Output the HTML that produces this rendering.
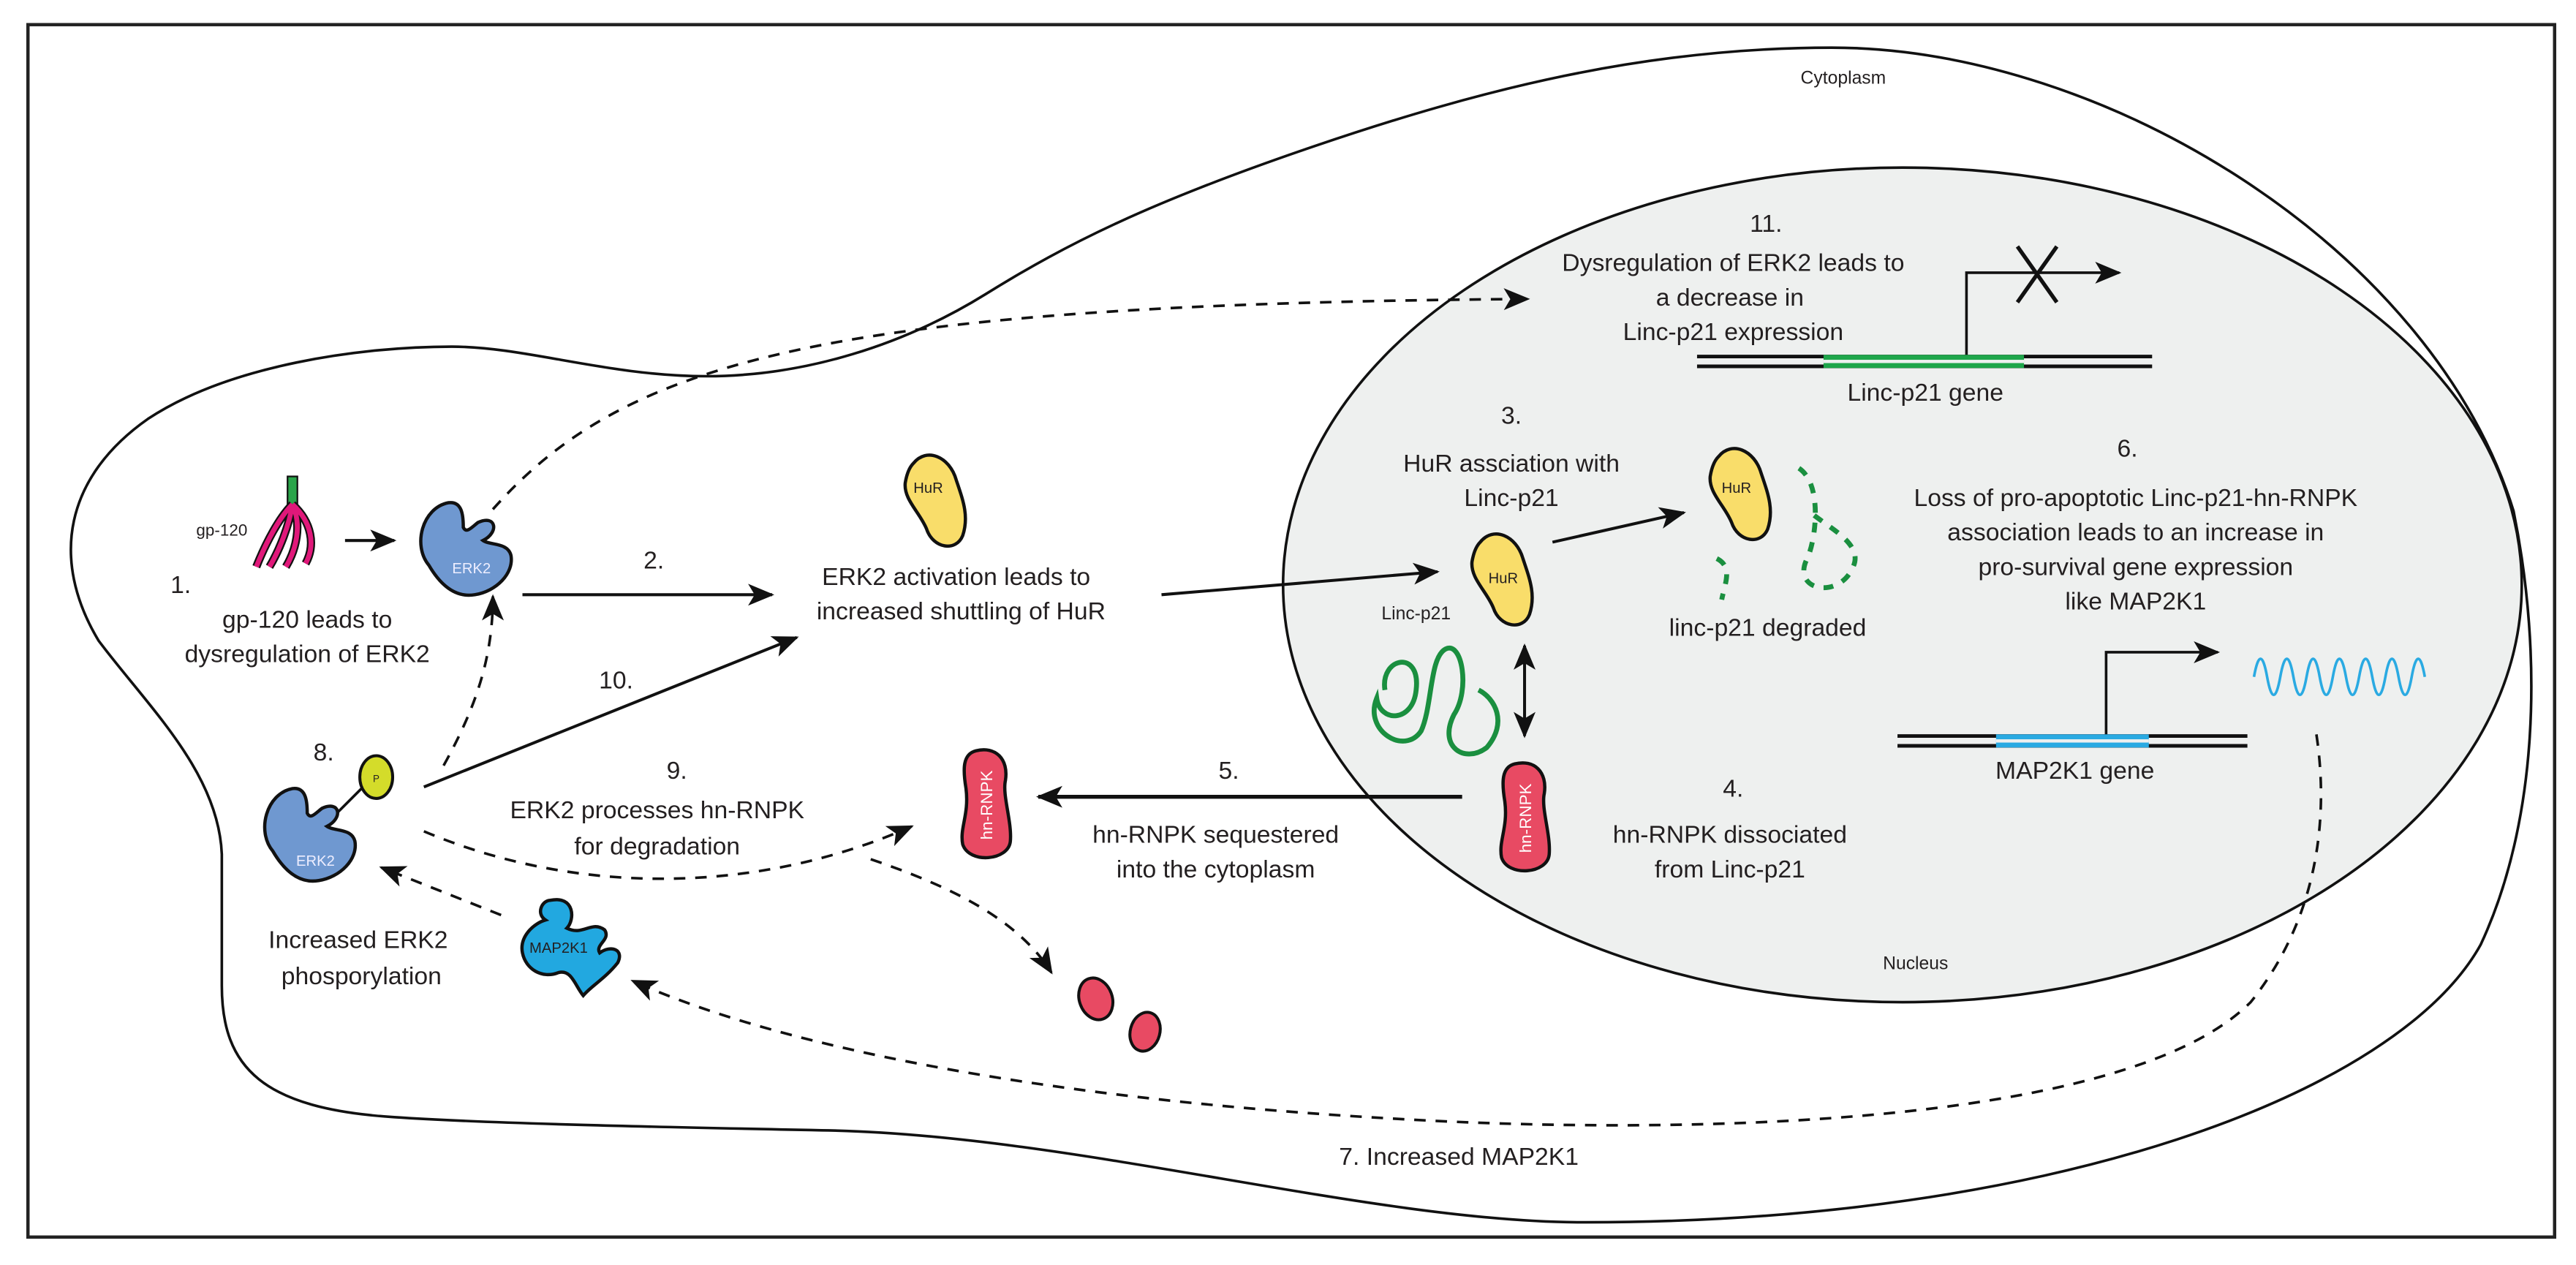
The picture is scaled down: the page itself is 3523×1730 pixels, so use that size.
<!DOCTYPE html>
<html><head><meta charset="utf-8"><style>
html,body{margin:0;padding:0;background:#fff;}
svg{display:block;}
text{font-family:"Liberation Sans",sans-serif;fill:#231f20;}
</style></head><body>
<svg width="3523" height="1730" viewBox="0 0 1568 770" xmlns="http://www.w3.org/2000/svg">
<defs>
<marker id="ahb" viewBox="0 0 12 10" refX="11" refY="5" markerWidth="16" markerHeight="14" orient="auto-start-reverse" markerUnits="userSpaceOnUse">
<path d="M0,0 L12,5 L0,10 L3,5Z" fill="#111"/></marker>
<g id="erk">
<path d="M-10,-28 C-26,-25 -32,-2 -22,10 C-15,22 -6,30 6,28 C19,26 30,15 28,4 C26,-4 15,-2 11,-5 C21,-10 19,-21 8,-16 C4,-13 1,-9 -1,-13 C-1,-21 -2,-29 -10,-28Z" fill="#6f98d0" stroke="#111" stroke-width="2"/>
</g>
<g id="hur">
<path d="M-14,-22 C-6,-32 8,-26 12,-12 C16,0 20,10 16,22 C12,32 -2,30 -6,18 C-10,8 -20,0 -19,-10 C-18,-16 -16,-20 -14,-22Z" fill="#f9dd6a" stroke="#111" stroke-width="2"/>
</g>
<g id="hn">
<path d="M-6,-33 C6,-36 14,-28 12,-15 C10,-6 16,10 15,22 C14,34 -10,36 -14,24 C-16,14 -10,6 -12,-10 C-14,-22 -14,-31 -6,-33Z" fill="#e84a63" stroke="#111" stroke-width="2"/>
</g>
</defs>
<rect x="0" y="0" width="1568" height="770" fill="#fff"/>
<rect x="17" y="15" width="1538" height="738" fill="none" stroke="#222" stroke-width="2"/>

<path d="M275,211 C320,211 370,229 430,229 C490,229 550,210 600,179 C650,148 700,123 800,89 C900,55 1000,29 1115,29 C1280,29 1480,150 1530,311 C1548,400 1545,500 1510,575 C1460,665 1250,745 960,744 C830,743 650,690 500,688 C400,686 300,684 240,680 C160,675 135,650 135,600 L135,520 C133,470 90,430 60,390 C30,340 40,290 90,255 C140,222 220,211 275,211Z" fill="#fff" stroke="#111" stroke-width="1.6"/>
<ellipse cx="1158" cy="356" rx="377" ry="254" fill="#eef0ef" stroke="#111" stroke-width="1.6"/>

<text x="1122" y="51" font-size="11" text-anchor="middle">Cytoplasm</text>
<text x="1166" y="590" font-size="11" text-anchor="middle">Nucleus</text>

<g font-size="15" text-anchor="middle">
<text x="1075" y="141">11.</text>
<text x="1055" y="165">Dysregulation of ERK2 leads to</text>
<text x="1053" y="186">a decrease in</text>
<text x="1055" y="207">Linc-p21 expression</text>
<text x="1172" y="244">Linc-p21 gene</text>
<text x="920" y="258">3.</text>
<text x="920" y="287">HuR assciation with</text>
<text x="920" y="308">Linc-p21</text>
<text x="1076" y="387">linc-p21 degraded</text>
<text x="1295" y="278">6.</text>
<text x="1300" y="308">Loss of pro-apoptotic Linc-p21-hn-RNPK</text>
<text x="1300" y="329">association leads to an increase in</text>
<text x="1300" y="350">pro-survival gene expression</text>
<text x="1300" y="371">like MAP2K1</text>
<text x="1263" y="474">MAP2K1 gene</text>
<text x="1055" y="485">4.</text>
<text x="1053" y="513">hn-RNPK dissociated</text>
<text x="1053" y="534">from Linc-p21</text>
<text x="748" y="474">5.</text>
<text x="740" y="513">hn-RNPK sequestered</text>
<text x="740" y="534">into the cytoplasm</text>
<text x="412" y="474">9.</text>
<text x="400" y="498">ERK2 processes hn-RNPK</text>
<text x="400" y="520">for degradation</text>
<text x="197" y="463">8.</text>
<text x="218" y="577">Increased ERK2</text>
<text x="220" y="599">phosporylation</text>
<text x="375" y="419">10.</text>
<text x="110" y="361">1.</text>
<text x="187" y="382">gp-120 leads to</text>
<text x="187" y="403">dysregulation of ERK2</text>
<text x="398" y="346">2.</text>
<text x="582" y="356">ERK2 activation leads to</text>
<text x="585" y="377">increased shuttling of HuR</text>
<text x="888" y="709">7.  Increased MAP2K1</text>
</g>
<text x="135" y="326" font-size="10" text-anchor="middle">gp-120</text>
<text x="862" y="377" font-size="11" text-anchor="middle">Linc-p21</text>

<g stroke="#111" stroke-width="2.2" fill="none">
<line x1="1033" y1="217" x2="1310" y2="217"/><line x1="1033" y1="223" x2="1310" y2="223"/>
<line x1="1155" y1="448" x2="1368" y2="448"/><line x1="1155" y1="454" x2="1368" y2="454"/>
</g>
<g stroke="#111" stroke-width="1.6" fill="none">
<polyline points="1197,217 1197,166 1290,166" marker-end="url(#ahb)"/>
<polyline points="1282,448 1282,397 1350,397" marker-end="url(#ahb)"/>
<line x1="1228" y1="150" x2="1252" y2="184" stroke-width="2.4"/><line x1="1252" y1="150" x2="1228" y2="184" stroke-width="2.4"/>
</g>
<rect x="1110" y="216" width="122" height="8" fill="#1ea64a"/>
<rect x="1110" y="219" width="122" height="2" fill="#eef0ef"/>
<rect x="1215" y="447" width="93" height="8" fill="#2aaae2"/>
<rect x="1215" y="450" width="93" height="2" fill="#eef0ef"/>
<path d="M1372,412 q4,-22 8,0 q4,22 8,0 q4,-22 8,0 q4,22 8,0 q4,-22 8,0 q4,22 8,0 q4,-22 8,0 q4,22 8,0 q4,-22 8,0 q4,22 8,0 q4,-22 8,0 q4,22 8,0 q4,-22 8,0" fill="none" stroke="#2aaae2" stroke-width="1.6"/>

<g stroke="#111" stroke-width="1.8" fill="none">
<line x1="210" y1="329" x2="240" y2="329" marker-end="url(#ahb)"/>
<line x1="318" y1="362" x2="470" y2="362" marker-end="url(#ahb)"/>
<line x1="707" y1="362" x2="875" y2="348" marker-end="url(#ahb)"/>
<line x1="945" y1="330" x2="1025" y2="312" marker-end="url(#ahb)"/>
<line x1="258" y1="479" x2="485" y2="388" marker-end="url(#ahb)"/>
<line x1="890" y1="485" x2="632" y2="485" stroke-width="2.4" marker-end="url(#ahb)"/>
<line x1="928" y1="393" x2="928" y2="448" marker-end="url(#ahb)" marker-start="url(#ahb)"/>
</g>
<g stroke="#111" stroke-width="1.6" fill="none" stroke-dasharray="7,6">
<path d="M300,310 C380,220 500,185 930,182" marker-end="url(#ahb)"/>
<path d="M270,466 C290,430 300,400 300,363" marker-end="url(#ahb)"/>
<path d="M258,506 C350,545 460,545 555,503" marker-end="url(#ahb)"/>
<path d="M530,523 C580,540 620,560 640,592" marker-end="url(#ahb)"/>
<path d="M305,557 L232,528" marker-end="url(#ahb)"/>
<path d="M1410,447 C1418,500 1410,560 1370,610 C1290,690 1000,690 850,681 C650,670 480,640 385,597" marker-end="url(#ahb)"/>
</g>

<rect x="175" y="290" width="6" height="18" fill="#2aa54a" stroke="#111" stroke-width="1"/>
<path d="M178,307 C170,315 162,330 156,345 M178,307 C176,320 170,335 164,345 M178,307 C184,320 180,335 174,345 M178,307 C190,318 192,332 186,343" stroke="#111" stroke-width="5" fill="none"/>
<path d="M178,307 C170,315 162,330 156,345 M178,307 C176,320 170,335 164,345 M178,307 C184,320 180,335 174,345 M178,307 C190,318 192,332 186,343" stroke="#e0187a" stroke-width="3" fill="none"/>

<use href="#erk" x="283" y="334"/>
<text x="287" y="349" font-size="9" style="fill:#eef" text-anchor="middle">ERK2</text>
<line x1="200" y1="500" x2="224" y2="476" stroke="#111" stroke-width="1.6"/>
<use href="#erk" x="188" y="508"/>
<text x="192" y="527" font-size="9" style="fill:#eef" text-anchor="middle">ERK2</text>
<ellipse cx="229" cy="473" rx="10" ry="13" fill="#d4dc2a" stroke="#111" stroke-width="1.8"/>
<text x="229" y="476" font-size="6" text-anchor="middle">P</text>

<path d="M335,548 C350,545 350,560 345,565 C355,570 360,560 368,566 C372,572 362,575 365,580 C372,575 380,578 376,586 C368,596 360,600 355,606 C350,600 348,590 340,592 C330,596 320,590 318,580 C316,570 325,562 332,560 C326,556 330,548 335,548Z" fill="#22a8e0" stroke="#111" stroke-width="2"/>
<text x="340" y="580" font-size="9" text-anchor="middle">MAP2K1</text>

<use href="#hur" x="570" y="304"/>
<text x="565" y="300" font-size="9" text-anchor="middle">HuR</text>
<use href="#hur" x="915" y="352"/>
<text x="915" y="355" font-size="9" text-anchor="middle">HuR</text>
<use href="#hur" x="1060" y="300"/>
<text x="1057" y="300" font-size="9" text-anchor="middle">HuR</text>

<g stroke="#1a8f3f" stroke-width="3" fill="none" stroke-dasharray="6,6">
<path d="M1095,285 C1110,295 1105,330 1100,340 C1090,360 1120,365 1128,345 C1135,330 1110,320 1100,310"/>
<path d="M1045,340 C1055,345 1050,355 1048,365"/>
</g>
<path d="M843,420 C840,400 865,395 862,420 C860,440 840,440 838,425 C830,445 855,460 865,445 C872,430 870,400 880,395 C890,390 895,420 885,435 C875,455 892,465 905,455 C918,440 910,425 900,420" stroke="#1a8f3f" stroke-width="3" fill="none"/>

<use href="#hn" x="600" y="490"/>
<text transform="translate(604,490) rotate(-90)" font-size="10" style="fill:#fff" text-anchor="middle">hn-RNPK</text>
<use href="#hn" x="928" y="498"/>
<text transform="translate(932,498) rotate(-90)" font-size="10" style="fill:#fff" text-anchor="middle">hn-RNPK</text>

<ellipse cx="667" cy="608" rx="10" ry="13" transform="rotate(-20 667 608)" fill="#e84a63" stroke="#111" stroke-width="1.8"/>
<ellipse cx="697" cy="628" rx="9" ry="12" transform="rotate(15 697 628)" fill="#e84a63" stroke="#111" stroke-width="1.8"/>
</svg>
</body></html>
